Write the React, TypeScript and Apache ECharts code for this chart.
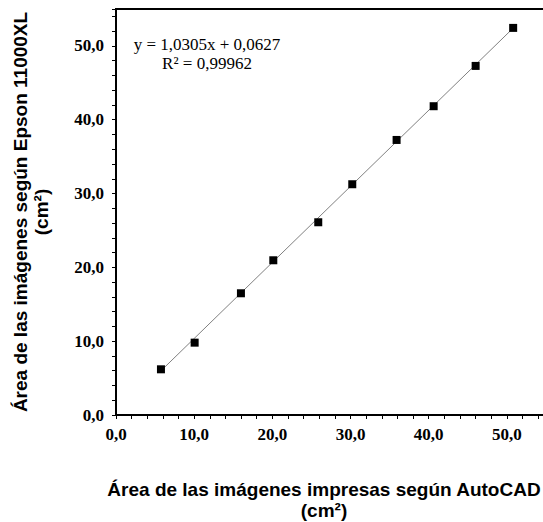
import React, { useEffect, useRef } from "react";
import * as echarts from "echarts";

const xValues = [5.75, 10.06, 15.98, 20.12, 25.87, 30.22, 35.89, 40.63, 46.0, 50.8];
const yValues = [6.19, 9.8, 16.49, 20.96, 26.11, 31.26, 37.26, 41.83, 47.29, 52.44];
const slope = 1.0305;
const intercept = 0.0627;
const rSquared = "0,99962";
const axisMin = 0;
const axisMax = 55;
const axisInterval = 10;
const xTitle = "Área de las imágenes impresas según AutoCAD\n(cm²)";
const yTitle = "Área de las imágenes según Epson 11000XL\n(cm²)";
const equationText = `y = 1,0305x + 0,0627\nR² = ${rSquared}`;

const fmt = (v: number) => v.toFixed(1).replace(".", ",");

export default function App() {
  const ref = useRef<HTMLDivElement>(null);
  useEffect(() => {
    if (!ref.current) return;
    const chart = echarts.init(ref.current, undefined, { renderer: "svg" });
    const points = xValues.map((x, i) => [x, yValues[i]]);
    const minX = Math.min(...xValues);
    const maxX = Math.max(...xValues);
    const trend = [
      [minX, slope * minX + intercept],
      [maxX, slope * maxX + intercept],
    ];
    const tickLabel = {
      fontFamily: "Liberation Serif",
      fontWeight: "bold" as const,
      fontSize: 17,
      color: "#000",
      formatter: fmt,
      showMaxLabel: false,
    };
    const titleStyle = {
      fontFamily: "Liberation Sans",
      fontWeight: "bold" as const,
      fontSize: 19,
      color: "#000",
      lineHeight: 21,
    };
    const axisCommon = {
      type: "value" as const,
      min: axisMin,
      max: axisMax,
      interval: axisInterval,
      axisLine: { show: true, onZero: false, lineStyle: { color: "#000", width: 2 } },
      axisTick: { show: true, inside: false, length: 4, lineStyle: { color: "#000", width: 1 } },
      minorTick: { show: true, splitNumber: 5, length: 4, lineStyle: { color: "#000", width: 1 } },
      splitLine: { show: false },
    };
    chart.setOption({
      animation: false,
      backgroundColor: "#fff",
      grid: {
        left: 116,
        top: 9,
        right: -3,
        bottom: 107,
        show: true,
        borderColor: "#000",
        borderWidth: 2,
        backgroundColor: "transparent",
        containLabel: false,
        outerBoundsMode: "none",
      },
      xAxis: {
        ...axisCommon,
        axisLabel: { ...tickLabel, margin: 11 },
      },
      yAxis: {
        ...axisCommon,
        name: yTitle,
        nameLocation: "middle",
        nameGap: 64,
        nameRotate: 90,
        nameTextStyle: titleStyle,
        axisLabel: { ...tickLabel, margin: 12 },
      },
      graphic: [
        {
          type: "text",
          x: 207,
          y: 54,
          style: {
            text: equationText,
            fontFamily: "Liberation Serif",
            fontSize: 17,
            lineHeight: 19,
            fill: "#000",
            align: "center",
            verticalAlign: "middle",
          },
        },
        {
          type: "text",
          x: 324,
          y: 500,
          style: {
            text: xTitle,
            fontFamily: titleStyle.fontFamily,
            fontWeight: "bold",
            fontSize: titleStyle.fontSize,
            lineHeight: titleStyle.lineHeight,
            fill: "#000",
            align: "center",
            verticalAlign: "middle",
          },
        },
      ],
      series: [
        {
          type: "line",
          data: trend,
          symbol: "none",
          lineStyle: { color: "#808080", width: 1 },
          z: 1,
        },
        {
          type: "scatter",
          data: points,
          symbol: "rect",
          symbolSize: 8,
          itemStyle: { color: "#000", opacity: 1 },
          z: 2,
        },
      ],
    });
    return () => chart.dispose();
  }, []);
  return (
    <div
      ref={ref}
      style={{ position: "fixed", left: 0, top: 0, width: 543, height: 522, background: "#fff" }}
    />
  );
}
